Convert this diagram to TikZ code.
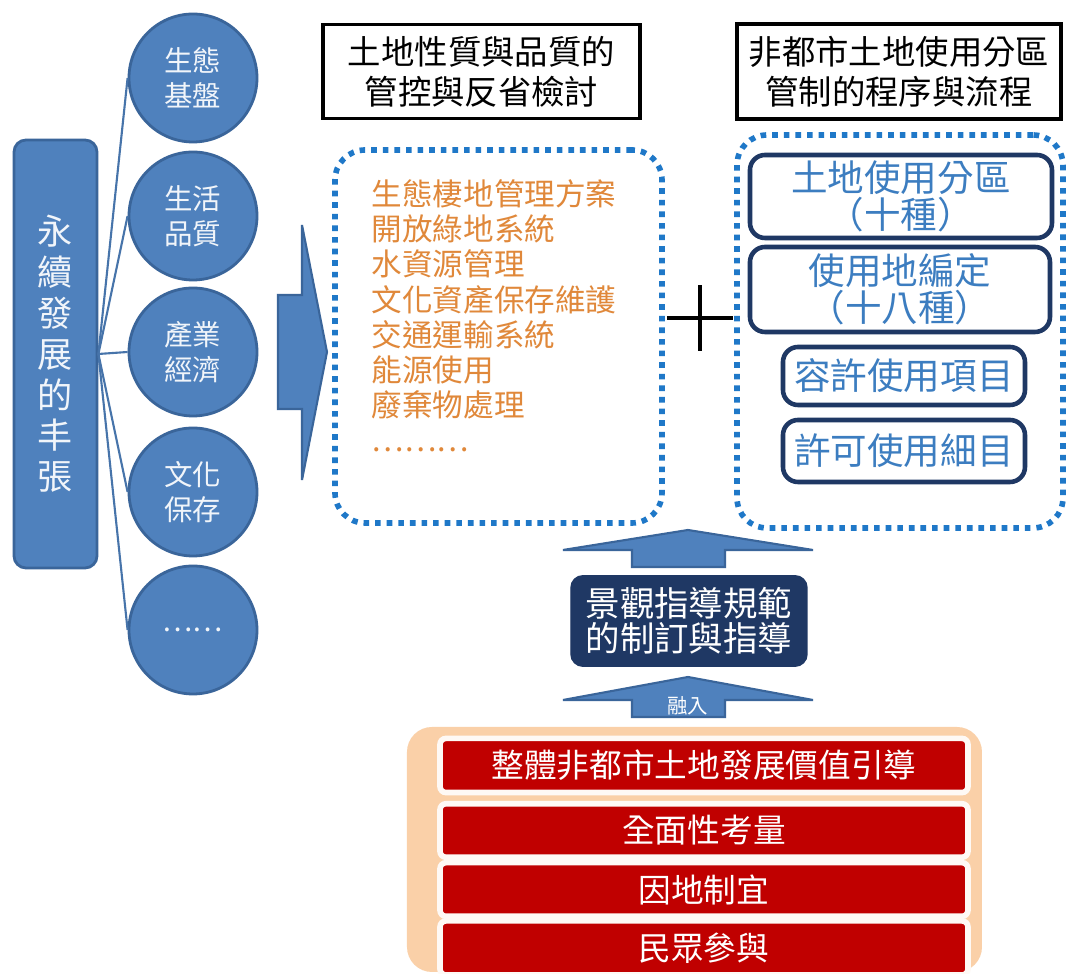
\documentclass[tikz,border=0pt]{standalone}
\usepackage{fontspec}
\setmainfont{Noto Sans CJK TC}
\usetikzlibrary{shapes.geometric}

\definecolor{stemblue}{HTML}{4F81BD}
\definecolor{stemedge}{HTML}{3A659A}
\definecolor{dotblue}{HTML}{1F78C8}
\definecolor{listorange}{HTML}{E0883A}
\definecolor{navy}{HTML}{1F3864}
\definecolor{itemblue}{HTML}{3C7DC0}
\definecolor{barred}{HTML}{C00000}
\definecolor{peach}{HTML}{FAD0A8}

\tikzset{
  mainbox/.style={draw=stemedge, fill=stemblue, rounded corners=1.2mm, line width=0.8pt,
    minimum width=8.3mm, minimum height=42.8mm, align=center, text=white!92!stemblue,
    font=\fontsize{10}{11.6}\selectfont},
  aim/.style={draw=stemedge, fill=stemblue, ellipse, line width=0.8pt, inner sep=0pt,
    minimum width=12.8mm, minimum height=12.8mm, align=center, text=white!92!stemblue,
    font=\fontsize{8.1}{10}\selectfont},
  fanline/.style={draw=stemblue!90!black, line width=0.6pt},
  titlebox/.style={draw, line width=1pt, minimum height=9.3mm, align=center,
    font=\fontsize{9.5}{11.4}\selectfont},
  dotbox/.style={draw=dotblue, line width=1.6pt, dash pattern=on 1.6pt off 1.7pt,
    rounded corners=3mm},
  listtext/.style={text=listorange, align=left, inner sep=0pt,
    font=\fontsize{8.7}{10}\selectfont},
  rulebox/.style={draw=navy, line width=1.3pt, fill=white, rounded corners=1.5mm, inner sep=1pt,
    text=itemblue, align=center, font=\fontsize{10.4}{10.4}\selectfont},
  upshape/.style={fill=stemblue, draw=stemedge, line width=0.6pt},
  guidebox/.style={fill=navy, draw=navy, rounded corners=1.2mm, minimum width=23.6mm,
    minimum height=8.4mm, text=white, align=center, font=\fontsize{9.8}{10}\selectfont},
  redbar/.style={fill=barred, draw=white!88!peach, line width=1.6pt, rounded corners=0.6mm,
    minimum width=52.8mm, text=white, font=\fontsize{9.3}{10}\selectfont}
}

\begin{document}
\begin{tikzpicture}[x=1mm, y=-1mm]
\useasboundingbox[fill=white] (0,0) rectangle (106.7,97.4);

% left side
\node[mainbox] (main) at (5.55,35.4) {永\\續\\發\\展\\的\\丰\\張};
\node[aim] (c1) at (19.3,7.8) {生態\\基盤};
\node[aim] (c2) at (19.3,21.6) {生活\\品質};
\node[aim] (c3) at (19.3,35.2) {產業\\經濟};
\node[aim] (c4) at (19.3,49.2) {文化\\保存};
\node[aim] (c5) at (19.3,63.0) {……};

\path[fanline] (main.east) -- (c1.west);
\path[fanline] (main.east) -- (c2.west);
\path[fanline] (main.east) -- (c3.west);
\path[fanline] (main.east) -- (c4.west);
\path[fanline] (main.east) -- (c5.west);

\filldraw[upshape] (27.8,29.5) -- (30.2,29.5) -- (30.2,22.5) -- (32.7,35.2)
  -- (30.2,48.0) -- (30.2,40.9) -- (27.8,40.9) -- cycle;

% titles
\node[titlebox, minimum width=31.7mm] (t1) at (48.15,7.15) {土地性質與品質的\\管控與反省檢討};
\node[titlebox, minimum width=31.8mm] (t2) at (89.9,7.15) {非都市土地使用分區\\管制的程序與流程};

% middle list
\node[dotbox, minimum width=32.7mm, minimum height=37.3mm] (measures) at (49.85,33.65) {};
\node[listtext, anchor=north west] (list) at (37.1,17.9)
  {生態棲地管理方案\\開放綠地系統\\水資源管理\\文化資產保存維護\\交通運輸系統\\能源使用\\廢棄物處理\\………};

\coordinate (plus) at (70,31.8);
\draw[line width=1.2pt] ([xshift=-3.3mm]plus) -- ([xshift=3.3mm]plus)
  ([yshift=-3.3mm]plus) -- ([yshift=3.3mm]plus);

% right rules
\node[dotbox, minimum width=32.6mm, minimum height=39.3mm] (rules) at (90.0,33.15) {};
\node[rulebox, minimum width=30.2mm, minimum height=8.3mm] (zone) at (90.1,19.65) {土地使用分區\\（十種）};
\node[rulebox, minimum width=30.0mm, minimum height=8.5mm] (landuse) at (90.0,28.95) {使用地編定\\（十八種）};
\node[rulebox, minimum width=24.2mm, minimum height=5.8mm] (allow) at (90.4,37.6) {容許使用項目};
\node[rulebox, minimum width=24.2mm, minimum height=6.2mm] (permit) at (90.4,45.1) {許可使用細目};

% bottom
\filldraw[upshape] (63.2,56.7) -- (63.2,55.0) -- (56.3,55.0) -- (68.8,53.0)
  -- (81.3,55.0) -- (72.5,55.0) -- (72.5,56.7) -- cycle;
\node[guidebox] (guide) at (68.9,62.1) {景觀指導規範\\的制訂與指導};
\filldraw[upshape] (63.2,71.7) -- (63.2,70.0) -- (56.3,70.0) -- (68.8,67.7)
  -- (81.3,70.0) -- (72.5,70.0) -- (72.5,71.7) -- cycle;
\node[text=white, font=\fontsize{5.8}{6}\selectfont, inner sep=0pt] (merge) at (68.8,70.6) {融入};

\node[fill=peach, rounded corners=2.5mm, minimum width=57.5mm, minimum height=24.5mm] (base) at (69.45,84.95) {};
\node[redbar, minimum height=4.7mm] (b1) at (70.4,76.55) {整體非都市土地發展價值引導};
\node[redbar, minimum height=3.9mm] (b2) at (70.4,83.05) {全面性考量};
\node[redbar, minimum height=3.9mm] (b3) at (70.4,88.95) {因地制宜};
\node[redbar, minimum height=4.0mm] (b4) at (70.4,94.8) {民眾參與};
\end{tikzpicture}
\end{document}
